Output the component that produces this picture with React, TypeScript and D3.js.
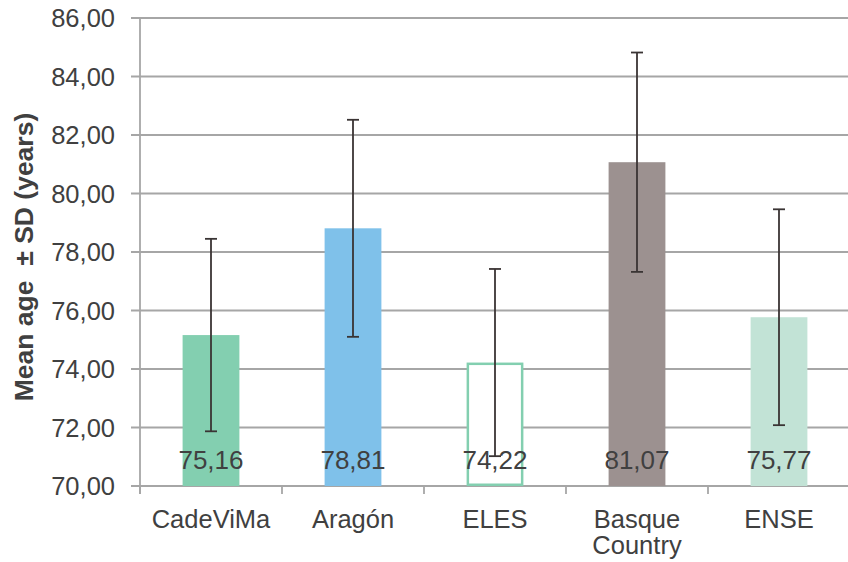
import React from "react";
import * as d3 from "d3";

const categories = ["CadeViMa", "Aragón", "ELES", "Basque Country", "ENSE"];
const means = [75.16, 78.81, 74.22, 81.07, 75.77];
const sds = [3.29, 3.71, 3.2, 3.75, 3.69];
const fills = ["#83CFB0", "#7FC1EA", "#FFFFFF", "#9C9190", "#C2E3D6"];
const strokes = ["none", "none", "#83CFB0", "none", "none"];
const yTicks = [70, 72, 74, 76, 78, 80, 82, 84, 86];

const W = 848;
const H = 562;

export default function App() {
  const x = d3.scaleBand<string>().domain(categories).range([140, 850]).padding(0);
  const y = d3.scaleLinear().domain([70, 86]).range([486, 18]);
  const bw = x.bandwidth();
  const fmt = (v: number) => d3.format(".2f")(v).replace(".", ",");
  const textColor = "#404040";
  const gridColor = "#A6A6A6";
  const font = "Liberation Sans, Arial, sans-serif";

  return (
    <svg
      width={W}
      height={H}
      style={{ position: "absolute", left: 0, top: 0, background: "#fff" }}
      fontFamily={font}
    >
      {/* gridlines */}
      {yTicks.map((t) => (
        <line key={"g" + t} x1={131} x2={W} y1={y(t)} y2={y(t)} stroke={gridColor} strokeWidth={1.8} />
      ))}
      {/* y axis line */}
      <line x1={140} x2={140} y1={y(86)} y2={y(70) + 8} stroke={gridColor} strokeWidth={1.8} />
      {/* y tick labels */}
      {yTicks.map((t) => (
        <text key={"yt" + t} x={115} y={y(t) + 9} textAnchor="end" fontSize={25.5} fill={textColor}>
          {fmt(t)}
        </text>
      ))}
      {/* category ticks */}
      {categories.map((c) => (
        <line key={"ct" + c} x1={x(c)!} x2={x(c)!} y1={y(70)} y2={y(70) + 8} stroke={gridColor} strokeWidth={1.8} />
      ))}
      {/* bars */}
      {categories.map((c, i) => {
        const isOutline = strokes[i] !== "none";
        const inset = isOutline ? 1.25 : 0;
        return (
          <rect
            key={"b" + c}
            x={x(c)! + bw * 0.3 + inset}
            y={y(means[i]) + inset}
            width={bw * 0.4 - inset * 2}
            height={y(70) - y(means[i]) - inset * 2}
            fill={fills[i]}
            stroke={strokes[i]}
            strokeWidth={isOutline ? 2.5 : 0}
          />
        );
      })}
      {/* value labels */}
      {categories.map((c, i) => (
        <text key={"v" + c} x={x(c)! + bw / 2} y={469} textAnchor="middle" fontSize={26} fill={textColor}>
          {fmt(means[i])}
        </text>
      ))}
      {/* error bars */}
      {categories.map((c, i) => {
        const cx = x(c)! + bw / 2;
        const top = y(means[i] + sds[i]);
        const bot = y(means[i] - sds[i]);
        return (
          <g key={"e" + c} stroke="#3A3434" strokeWidth={1.8}>
            <line x1={cx} x2={cx} y1={top} y2={bot} />
            <line x1={cx - 6} x2={cx + 6} y1={top} y2={top} />
            <line x1={cx - 6} x2={cx + 6} y1={bot} y2={bot} />
          </g>
        );
      })}
      {/* category labels */}
      {categories.map((c) => {
        const words = c === "Basque Country" ? ["Basque", "Country"] : [c];
        return (
          <text key={"cl" + c} x={x(c)! + bw / 2} y={528} textAnchor="middle" fontSize={25.5} fill={textColor}>
            {words.map((w, j) => (
              <tspan key={j} x={x(c)! + bw / 2} dy={j === 0 ? 0 : 25.5}>
                {w}
              </tspan>
            ))}
          </text>
        );
      })}
      {/* y axis title */}
      <text
        transform={`translate(32.5, 257) rotate(-90)`}
        textAnchor="middle"
        fontSize={26.5}
        fontWeight="bold"
        fill={textColor}
        style={{ whiteSpace: "pre" }}
      >
        {"Mean age  ± SD (years)"}
      </text>
    </svg>
  );
}
